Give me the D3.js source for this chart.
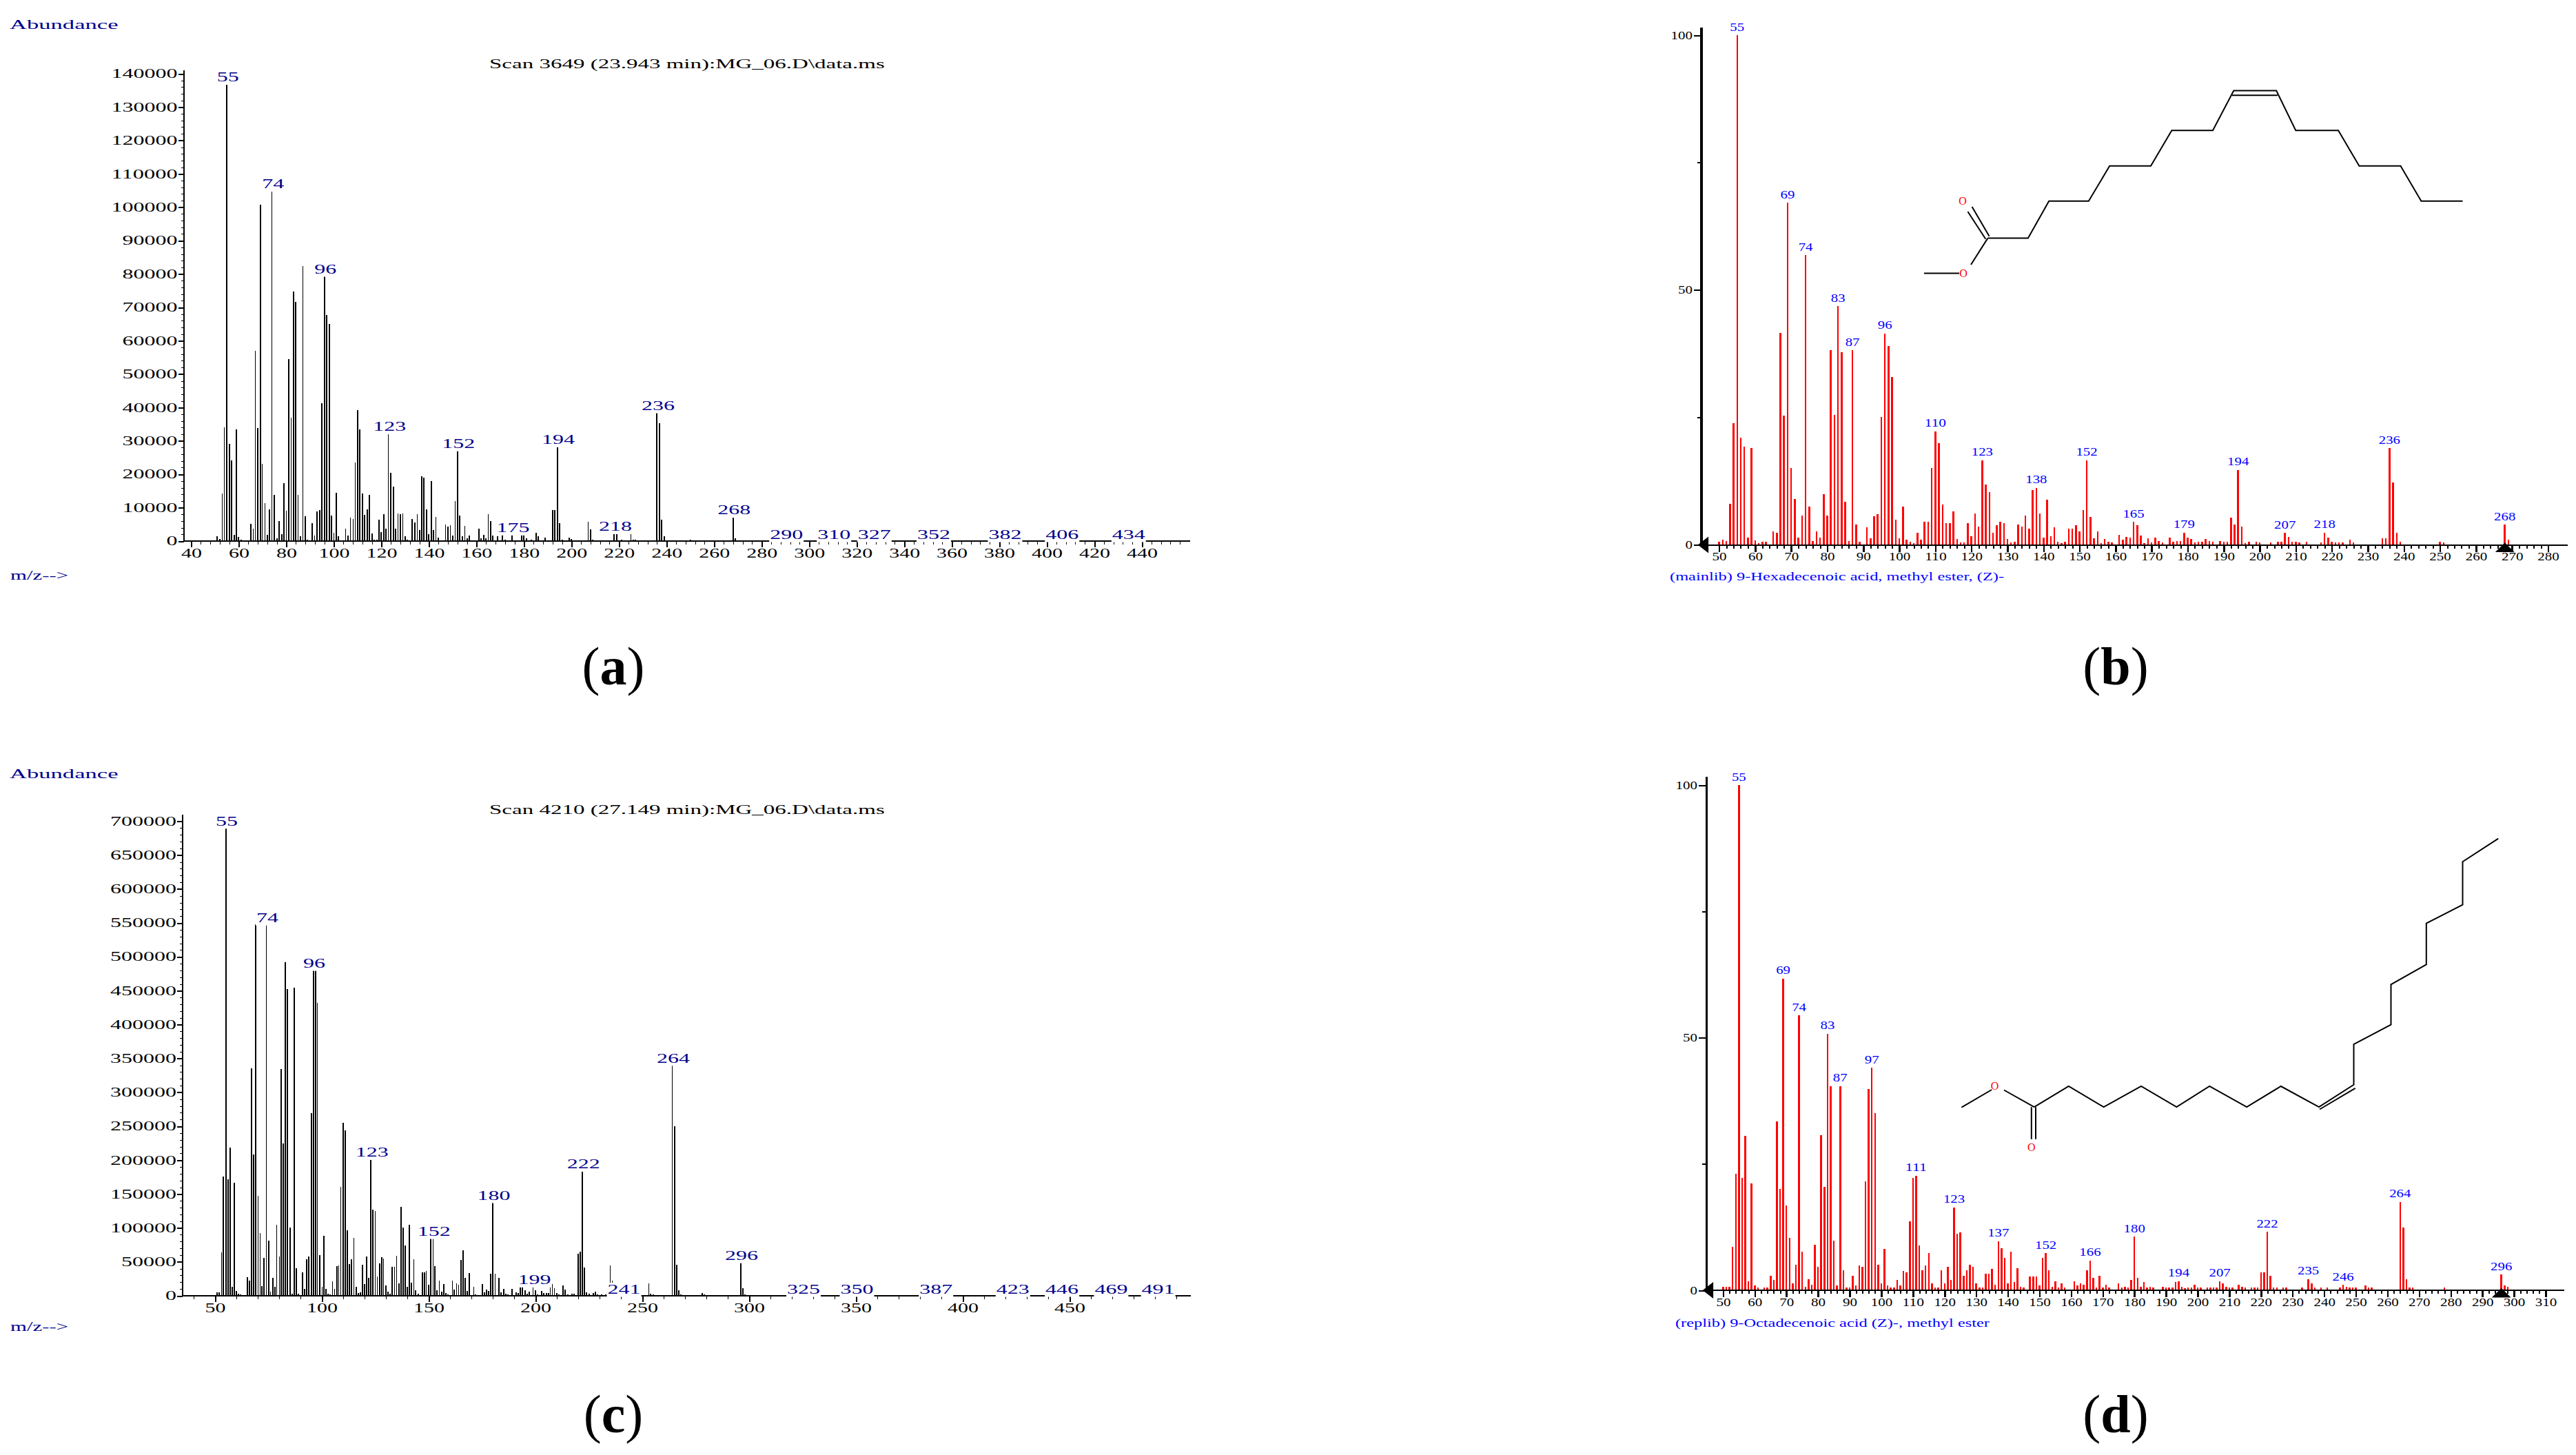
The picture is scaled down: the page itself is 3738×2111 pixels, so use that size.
<!DOCTYPE html>
<html>
<head>
<meta charset="utf-8">
<script src="https://cdn.jsdelivr.net/npm/d3@7"></script>
<style>
    html, body { margin: 0; padding: 0; background: #fff; }
    svg { display: block; }
    text { font-family: "Liberation Serif", serif; }
    line { shape-rendering: crispEdges; }
</style>
</head>
<body>
<div id="chart"></div>
<script>
// (a) measured spectrum, scan 3649
var massA = [51,52,53,54,55,56,57,58,59,60,61,65,66,67,68,69,70,71,72,73,74,75,76,77,78,79,80,81,82,83,84,85,86,87,88,89,91,92,93,94,95,96,97,98,99,100,101,102,105,106,107,108,109,110,111,112,113,114,115,116,117,118,119,120,121,122,123,124,125,126,127,128,129,130,131,133,134,135,136,137,138,139,140,141,142,143,144,147,148,149,150,151,152,153,154,155,156,157,158,161,162,163,164,165,166,167,169,171,172,175,177,179,180,181,183,185,186,189,192,193,194,195,196,197,199,200,207,208,209,218,219,221,225,226,227,236,237,238,239,250,268,269,270];
var abundA = [1400,700,14300,34100,137000,29100,24100,1800,33400,1200,500,5100,3700,57000,33900,100700,23100,11300,1800,9600,105000,13800,900,6000,2000,17300,9000,54500,36900,74800,71600,13800,1500,82400,7400,400,5300,1600,8800,9300,41200,79500,67700,65000,7600,2500,14400,1500,3800,1600,7000,6700,23500,39200,33400,14300,7800,9600,13800,2300,500,500,6300,2600,8000,3700,32300,20400,16300,3800,8300,8000,8300,1500,500,6600,5500,8000,3300,19500,18900,9500,2000,17900,3300,7300,1000,5000,4400,4800,1600,12000,27200,7600,1500,4500,800,1600,300,3700,900,1800,800,8000,6000,1600,1500,2000,500,2000,300,2000,1800,800,400,2500,1500,1100,9300,9300,28400,5300,400,300,1000,700,5800,3500,500,2400,2000,500,2300,500,500,38600,35300,6300,1400,500,7300,800,300];
var thinA = [53,54,66,67,70,71,74,80,82,85,87,92,100,105,107,108,109,123,127,129,135,143,147,149,151,155,165,207,225];
var labelsA = [55,74,96,123,152,175,194,218,236,268,290,310,327,352,382,406,434];

// (b) library spectrum, 9-hexadecenoic acid methyl ester
var massB = [50,51,52,53,54,55,56,57,58,59,60,61,62,63,65,66,67,68,69,70,71,72,73,74,75,76,77,78,79,80,81,82,83,84,85,86,87,88,89,91,92,93,94,95,96,97,98,99,100,101,102,103,104,105,106,107,108,109,110,111,112,113,114,115,116,117,118,119,120,121,122,123,124,125,126,127,128,129,130,131,132,133,134,135,136,137,138,139,140,141,142,143,144,145,146,147,148,149,150,151,152,153,154,155,156,157,158,159,161,162,163,164,165,166,167,168,169,170,171,172,173,175,176,177,178,179,180,181,182,183,184,185,186,187,189,190,191,192,193,194,195,196,197,199,200,203,205,206,207,208,209,210,211,213,217,218,219,220,221,222,223,225,226,234,235,236,237,238,239,250,251,268,269];
var abundB = [0.6,1,0.7,8.1,23.9,100,21,19.3,1.4,19,0.9,0.4,0.6,0.6,2.7,2.4,41.6,25.4,67.1,15.1,9,1.4,5.7,56.8,7.5,0.7,2.7,1.4,9.9,5.7,38.2,25.5,46.8,37.8,8.5,0.7,38.2,4,0.6,3.4,1.3,5.6,6,25.1,41.5,39,32.9,4.9,1.3,7.5,1,0.6,0.4,2.3,1,4.5,4.5,15.1,22.3,19.9,7.9,4.2,4.2,6.6,1.2,0.5,0.5,4.2,1.7,6.2,3.6,16.6,11.8,10.3,2.4,3.8,4.5,4.2,1.2,0.5,0.6,4,3.6,5.7,3.2,10.8,11.2,6.2,1.4,8.8,1.7,3.4,0.6,0.4,0.6,3.2,3.2,3.8,2.7,6.8,16.6,5.5,1.3,2.7,0.4,1.2,0.6,0.5,2,1,1.6,1.4,4.5,3.8,1.8,0.4,1.3,0.5,1.4,0.7,0.5,1.4,0.6,0.7,0.7,2.4,1.4,1.2,0.5,0.6,0.6,1.2,0.7,0.6,0.7,0.6,0.6,5.3,4,14.7,3.6,0.4,0.6,0.6,0.5,0.5,0.6,0.6,2.3,1.6,0.6,0.6,0.5,0.6,0.5,2.4,1.4,0.6,0.5,0.5,0.5,1,0.5,1.3,1.3,19,12.2,2.3,0.6,0.6,0.5,4,1];
var labelsB = [55,69,74,83,87,96,110,123,138,152,165,179,194,207,218,236,268];

// (c) measured spectrum, scan 4210
var massC = [51,52,53,54,55,56,57,58,59,60,61,62,63,65,66,67,68,69,70,71,72,73,74,75,76,77,78,79,80,81,82,83,84,85,86,87,88,89,91,92,93,94,95,96,97,98,99,100,101,102,103,104,105,106,107,108,109,110,111,112,113,114,115,116,117,118,119,120,121,122,123,124,125,126,127,128,129,130,131,132,133,134,135,136,137,138,139,140,141,142,143,144,145,147,148,149,150,151,152,153,154,155,156,157,158,159,161,162,163,164,165,166,167,168,169,171,172,175,176,177,178,179,180,181,183,184,185,186,187,189,191,192,193,194,195,196,197,199,200,201,203,204,205,206,207,208,209,210,211,213,214,215,217,218,220,221,222,223,224,225,227,228,229,231,233,235,236,238,240,242,244,246,248,253,254,255,264,265,266,267,268,278,279,296,297,298];
var abundC = [5000,5000,63600,175700,690500,171800,218600,13400,166800,6700,3300,1700,1100,27300,22300,336000,208000,547700,147800,92600,14500,55800,547700,80900,6100,26200,12800,104300,58000,334100,224800,492000,452400,100400,3000,454600,40700,3300,34600,10000,53500,58000,269400,480800,480800,432300,59700,12800,88100,10000,2800,1700,21200,10000,43500,44600,160600,254900,243800,96500,46300,53500,85300,12800,3900,5000,45700,17300,58000,26200,201900,127200,124900,28400,47400,56900,54700,15100,5600,3300,42400,42400,58600,17800,131100,100400,74200,12800,104300,19000,53500,7800,3300,34600,34600,36300,16200,85300,85300,43500,7800,22300,5600,17300,3900,1700,22300,8900,17800,16200,52400,66900,26200,6700,33500,12800,2200,17300,5000,8900,6700,32400,138300,32400,26200,5000,10000,2800,1700,10000,5000,3900,13900,13900,7800,3300,5600,13900,7800,1700,6700,3900,3900,3900,15100,17300,11200,3900,1700,15600,8900,1700,2800,2800,61900,64700,184600,41300,5000,2800,4500,5600,1700,1700,1700,44600,22300,1700,1700,1700,1700,1700,1700,17800,3300,1700,340800,249900,45700,7800,1700,3900,1700,49600,11200,2200];
var thinC = [53,70,71,74,76,79,80,98,100,105,106,108,109,115,125,126,129,134,135,143,149,152,155,161,163,164,171,181,199,207,208,209,235,236,253,264];
var labelsC = [55,74,96,123,152,180,199,222,241,264,296,325,350,387,423,446,469,491];

// (d) library spectrum, 9-octadecenoic acid methyl ester
var massD = [50,51,52,53,54,55,56,57,58,59,60,61,63,64,65,66,67,68,69,70,71,72,73,74,75,76,77,78,79,80,81,82,83,84,85,86,87,88,89,90,91,92,93,94,95,96,97,98,99,100,101,102,103,104,105,106,107,108,109,110,111,112,113,114,115,116,117,118,119,120,121,122,123,124,125,126,127,128,129,130,131,132,133,134,135,136,137,138,139,140,141,142,143,144,145,147,148,149,150,151,152,153,154,155,156,157,158,161,162,163,164,165,166,167,168,169,170,171,172,175,176,177,178,179,180,181,182,183,184,185,186,189,190,191,192,193,194,195,196,197,198,199,200,201,203,204,205,206,207,208,209,210,211,213,214,215,217,218,219,220,221,222,223,224,225,227,228,233,235,236,237,239,241,245,246,247,248,249,250,253,254,255,264,265,266,267,268,278,296,297,298];
var abundD = [0.7,0.7,0.7,8.6,23,100,22.2,30.6,1.8,21.2,0.9,0.5,0.6,0.6,2.9,2,33.4,20.1,61.7,16.8,10.4,1.3,5.1,54.4,7.6,0.7,2.2,1.1,9,4.6,30.7,20.4,50.8,40.4,9.8,0.9,40.4,4,0.6,0.5,2.8,0.9,4.9,4.6,21.6,39.9,44,35.1,5.1,1.3,8.2,0.9,0.5,0.5,2.1,1,3.8,3.6,13.6,22.2,22.7,8.8,4,4.9,7.4,1.3,0.5,0.6,4,1.3,4.6,2.1,16.4,11.2,11.4,2.8,4,5.1,4.6,1.3,0.6,0.6,3.3,3.3,4.2,1.1,9.7,8.3,6.4,1.3,7.6,1.6,4.3,0.7,0.5,2.7,2.7,2.7,1,6.4,7.3,4,0.7,1.8,0.6,1.3,0.6,1.8,1,1.3,1.1,4,5.9,2.5,0.6,2.8,0.5,1.1,0.5,1.3,0.5,0.7,0.5,2.1,10.6,2.5,0.7,1.6,0.5,0.7,0.6,0.7,0.5,0.6,0.6,1.6,1.8,0.7,0.4,0.5,0.5,1.1,0.6,0.5,0.6,0.6,0.6,0.6,1.8,1.3,0.7,0.6,0.6,1.1,0.7,0.5,0.6,0.5,0.5,3.6,3.6,11.6,2.8,0.6,0.5,0.6,0.6,0.5,2.2,1.3,0.5,0.5,0.6,0.5,1.1,0.7,0.6,0.6,0.5,1,0.6,0.6,17.5,12.4,2.2,0.6,0.6,0.5,3.1,1,0.7];
var labelsD = [55,69,74,83,87,97,111,123,137,152,166,180,194,207,222,235,246,264,296];

// tick labels and captions
var ticksAX = d3.range(40, 441, 20);
var ticksAY = d3.range(0, 140001, 10000);
var ticksCX = d3.range(50, 451, 50);
var ticksCY = d3.range(0, 700001, 50000);
var ticksBX = d3.range(50, 281, 10);
var ticksDX = d3.range(50, 311, 10);
var ticksLibY = [0, 50, 100];
var titleA = "Scan 3649 (23.943 min):MG_06.D\\data.ms";
var titleC = "Scan 4210 (27.149 min):MG_06.D\\data.ms";
var nameB = "(mainlib) 9-Hexadecenoic acid, methyl ester, (Z)-";
var nameD = "(replib) 9-Octadecenoic acid (Z)-, methyl ester";

// skeletal formulas (page pixels, drawing not data)
var bondsB = [
    [[2792,396.6],[2843,396.6]],
    [[2860,384],[2884.4,345.6]],
    [[2855.4,307],[2881.3,346.7]],
    [[2861.6,300],[2886.6,342.8]],
    [[2884.4,345.6],[2942.9,345.6],[2973.2,291.8],[3030.8,291.8],[3061.2,240.8],[3121,240.8],[3151.4,189.2],[3211,189.2],[3241.3,131.6],[3303.2,131.6],[3331.3,189.2],[3393.1,189.2],[3423.4,240.8],[3483.5,240.8],[3513.4,291.8],[3573.5,291.8]],
    [[3239,138.2],[3305,138.2]]
];
var oxygensB = [[2848,291.8],[2849,396]];
var bondsD = [
    [[2846.4,1606.7],[2890.2,1581]],
    [[2908,1581.5],[2951.8,1606.2]],
    [[2947.8,1606.2],[2947.8,1652.8]],
    [[2954,1606.2],[2954,1652.8]],
    [[2951.8,1606.2],[3001.8,1576],[3052.7,1606.2],[3107,1576],[3158.4,1606.2],[3206.2,1576],[3260.2,1606.2],[3309.8,1576],[3365,1606.2],[3415.5,1573.8],[3415.5,1515],[3469.5,1486.6],[3469.5,1428.4],[3520.8,1399.4],[3520.8,1339.6],[3573.5,1312.7],[3573.5,1250.2],[3625.2,1216.7]],
    [[3366,1609.5],[3417.7,1578.8]]
];
var oxygensD = [[2894.6,1575.5],[2947.8,1664]];

var width = 3738,
    height = 2111;

var svg = d3.select('#chart').append('svg')
    .attr('width', width)
    .attr('height', height);

var navy = '#00008b';

// the old instrument fonts are very wide, so every string is stretched
function wide(sel, perChar) {
    sel.attr('textLength', function () { return this.textContent.length * perChar; })
        .attr('lengthAdjust', 'spacingAndGlyphs');
    return sel;
}

function putText(x, y, txt, size, perChar, color, anchor) {
    return wide(svg.append('text')
        .attr('x', x)
        .attr('y', y)
        .attr('dy', '0.35em')
        .attr('text-anchor', anchor || 'start')
        .attr('font-size', size)
        .attr('fill', color)
        .text(txt), perChar);
}

function drawAgilent(p) {
    var x = d3.scaleLinear().domain(p.xDomain).range(p.xRange);
    var y = d3.scaleLinear().domain(p.yDomain).range(p.yRange);
    var g = svg.append('g');
    var thin = new Set(p.thin);

    g.selectAll('line.peak')
        .data(p.mass)
        .enter().append('line')
        .attr('class', 'peak')
        .attr('x1', function (d) { return x(d); })
        .attr('x2', function (d) { return x(d); })
        .attr('y1', y(0))
        .attr('y2', function (d, i) { return y(p.abund[i]); })
        .attr('stroke', '#000')
        .attr('stroke-width', function (d) { return thin.has(d) ? 1 : 2; });

    var axB = g.append('g').attr('transform', 'translate(0,' + y(0) + ')')
        .call(d3.axisBottom(x).tickValues(p.ticksX).tickSize(9).tickPadding(5).tickFormat(d3.format('d')));
    axB.select('.domain').remove();
    axB.selectAll('line').attr('stroke', '#000').attr('stroke-width', 2);
    wide(axB.selectAll('text').attr('font-family', 'Liberation Serif').attr('font-size', 18).attr('fill', '#000').attr('dy', '0.55em'), 15);

    var axM = g.append('g').attr('transform', 'translate(0,' + y(0) + ')')
        .call(d3.axisBottom(x).tickValues(p.minorX).tickSize(5).tickFormat(''));
    axM.select('.domain').remove();
    axM.selectAll('line').attr('stroke', '#000').attr('stroke-width', 1);

    var axL = g.append('g').attr('transform', 'translate(' + p.left + ',0)')
        .call(d3.axisLeft(y).tickValues(p.ticksY).tickSize(8).tickPadding(1).tickFormat(d3.format('d')));
    axL.select('.domain').remove();
    axL.selectAll('line').attr('stroke', '#000').attr('stroke-width', 2);
    wide(axL.selectAll('text').attr('font-family', 'Liberation Serif').attr('font-size', 18).attr('fill', '#000'), 16);

    var axLm = g.append('g').attr('transform', 'translate(' + p.left + ',0)')
        .call(d3.axisLeft(y).tickValues(p.minorY).tickSize(4).tickFormat(''));
    axLm.select('.domain').remove();
    axLm.selectAll('line').attr('stroke', '#000').attr('stroke-width', 1);

    g.append('line').attr('x1', p.left).attr('x2', p.left).attr('y1', p.top).attr('y2', y(0))
        .attr('stroke', '#000').attr('stroke-width', 2);
    g.append('line').attr('x1', p.left).attr('x2', p.right).attr('y1', y(0)).attr('y2', y(0))
        .attr('stroke', '#000').attr('stroke-width', 2);

    // peak labels knock out whatever sits behind them, the axis too
    var labs = g.selectAll('g.lab')
        .data(p.labels)
        .enter().append('g')
        .attr('class', 'lab')
        .attr('transform', function (d) {
            var k = p.mass.indexOf(d);
            return 'translate(' + (x(d) + 1.5) + ',' + y(k < 0 ? 0 : p.abund[k]) + ')';
        });
    labs.append('rect')
        .attr('x', function (d) { return -String(d).length * 8 - 1; })
        .attr('width', function (d) { return String(d).length * 16 + 2; })
        .attr('y', -19)
        .attr('height', 20.5)
        .attr('fill', '#fff');
    wide(labs.append('text')
        .attr('y', -9.5)
        .attr('dy', '0.35em')
        .attr('text-anchor', 'middle')
        .attr('font-size', 18)
        .attr('fill', navy)
        .text(function (d) { return d; }), 16);

    putText(14, p.abundanceY, 'Abundance', 18, 17.5, navy);
    putText(710, p.titleY, p.title, 18, 15.1, '#000');
    putText(15, p.mzY, 'm/z-->', 18, 14, navy);
}

function drawLibrary(p) {
    var x = d3.scaleLinear().domain(p.xDomain).range(p.xRange);
    var y = d3.scaleLinear().domain([0, 100]).range(p.yRange);
    var g = svg.append('g');

    g.selectAll('line.peak')
        .data(p.mass)
        .enter().append('line')
        .attr('class', 'peak')
        .attr('x1', function (d) { return x(d); })
        .attr('x2', function (d) { return x(d); })
        .attr('y1', y(0))
        .attr('y2', function (d, i) { return y(p.abund[i]); })
        .attr('stroke', '#f00')
        .attr('stroke-width', 2.5);

    var axB = g.append('g').attr('transform', 'translate(0,' + y(0) + ')')
        .call(d3.axisBottom(x).tickValues(p.ticksX).tickSize(10).tickPadding(3).tickFormat(d3.format('d')));
    axB.select('.domain').remove();
    axB.selectAll('line').attr('stroke', '#000').attr('stroke-width', 2.5);
    wide(axB.selectAll('text').attr('font-family', 'Liberation Serif').attr('font-size', 16).attr('fill', '#000').attr('dy', '0.6em'), 10.5);

    var axM = g.append('g').attr('transform', 'translate(0,' + y(0) + ')')
        .call(d3.axisBottom(x).tickValues(d3.range(p.xDomain[0], p.xDomain[1] + 1, 2)).tickSize(5).tickFormat(''));
    axM.select('.domain').remove();
    axM.selectAll('line').attr('stroke', '#000').attr('stroke-width', 2);

    var axL = g.append('g').attr('transform', 'translate(' + p.left + ',0)')
        .call(d3.axisLeft(y).tickValues(ticksLibY).tickSize(11).tickPadding(2).tickFormat(d3.format('d')));
    axL.select('.domain').remove();
    axL.selectAll('line').attr('stroke', '#000').attr('stroke-width', 2);
    wide(axL.selectAll('text').attr('font-family', 'Liberation Serif').attr('font-size', 16).attr('fill', '#000'), 10.5);

    var axLm = g.append('g').attr('transform', 'translate(' + p.left + ',0)')
        .call(d3.axisLeft(y).tickValues([25, 75]).tickSize(6).tickFormat(''));
    axLm.select('.domain').remove();
    axLm.selectAll('line').attr('stroke', '#000').attr('stroke-width', 2);

    g.append('line').attr('x1', p.left).attr('x2', p.left).attr('y1', p.top).attr('y2', y(0))
        .attr('stroke', '#000').attr('stroke-width', p.axisWidth);
    g.append('line').attr('x1', p.left).attr('x2', p.right).attr('y1', y(0)).attr('y2', y(0))
        .attr('stroke', '#000').attr('stroke-width', 2);

    // scroll arrow at the origin, marker under the molecular ion
    var tri = d3.symbol().type(d3.symbolTriangle).size(170);
    g.append('path').attr('d', tri)
        .attr('transform', 'translate(' + (p.left + 5) + ',' + y(0) + ') rotate(-90) scale(1.2,0.9)');
    g.append('path').attr('d', tri)
        .attr('transform', 'translate(' + x(p.ion) + ',' + (y(0) + 6) + ') scale(1.4,0.8)');

    wide(g.selectAll('text.lab')
        .data(p.labels)
        .enter().append('text')
        .attr('class', 'lab')
        .attr('x', function (d) { return x(d); })
        .attr('y', function (d) { return y(p.abund[p.mass.indexOf(d)]) - 12; })
        .attr('dy', '0.35em')
        .attr('text-anchor', 'middle')
        .attr('font-size', 16)
        .attr('fill', '#00f')
        .text(function (d) { return d; }), 10.4);

    putText(p.nameX, p.nameY, p.name, 16, p.namePerChar, '#00f');

    var line = d3.line();
    g.selectAll('path.bond')
        .data(p.bonds)
        .enter().append('path')
        .attr('class', 'bond')
        .attr('d', line)
        .attr('fill', 'none')
        .attr('stroke', '#000')
        .attr('stroke-width', 2);
    g.selectAll('text.oxy')
        .data(p.oxygens)
        .enter().append('text')
        .attr('class', 'oxy')
        .attr('x', function (d) { return d[0]; })
        .attr('y', function (d) { return d[1]; })
        .attr('dy', '0.35em')
        .attr('text-anchor', 'middle')
        .attr('font-size', 16)
        .attr('fill', '#f00')
        .text('O');
}

drawAgilent({
    mass: massA, abund: abundA, thin: thinA, labels: labelsA,
    xDomain: [40, 440], xRange: [277.5, 1657],
    yDomain: [0, 140000], yRange: [785, 107],
    ticksX: ticksAX, minorX: d3.range(40, 457, 4),
    ticksY: ticksAY, minorY: d3.range(0, 140001, 2000),
    left: 266.6, right: 1727, top: 102,
    abundanceY: 36, titleY: 93, mzY: 835, title: titleA
});

drawAgilent({
    mass: massC, abund: abundC, thin: thinC, labels: labelsC,
    xDomain: [50, 450], xRange: [312, 1552],
    yDomain: [0, 700000], yRange: [1880, 1191.5],
    ticksX: ticksCX, minorX: d3.range(40, 501, 10),
    ticksY: ticksCY, minorY: d3.range(0, 700001, 10000),
    left: 265, right: 1728, top: 1182,
    abundanceY: 1123, titleY: 1175, mzY: 1925, title: titleC
});

drawLibrary({
    mass: massB, abund: abundB, labels: labelsB, ion: 268,
    xDomain: [50, 280], xRange: [2494.6, 3697.5], yRange: [790.5, 51],
    ticksX: ticksBX, left: 2469, right: 3726, top: 39.5, axisWidth: 4,
    name: nameB, nameX: 2423, nameY: 836.5, namePerChar: 9.9,
    bonds: bondsB, oxygens: oxygensB
});

drawLibrary({
    mass: massD, abund: abundD, labels: labelsD, ion: 296,
    xDomain: [50, 310], xRange: [2500.4, 3694], yRange: [1872, 1139],
    ticksX: ticksDX, left: 2476, right: 3721, top: 1127, axisWidth: 3,
    name: nameD, nameX: 2431, nameY: 1919, namePerChar: 9.7,
    bonds: bondsD, oxygens: oxygensD
});

// panel captions
[['a', 890, 966], ['b', 3070, 966], ['c', 890, 2051], ['d', 3070, 2051]].forEach(function (c) {
    var t = svg.append('text')
        .attr('x', c[1])
        .attr('y', c[2])
        .attr('dy', '0.35em')
        .attr('text-anchor', 'middle')
        .attr('font-size', 78)
        .attr('fill', '#000');
    t.append('tspan').text('(');
    t.append('tspan').attr('font-weight', 'bold').text(c[0]);
    t.append('tspan').text(')');
});
</script>
</body>
</html>
